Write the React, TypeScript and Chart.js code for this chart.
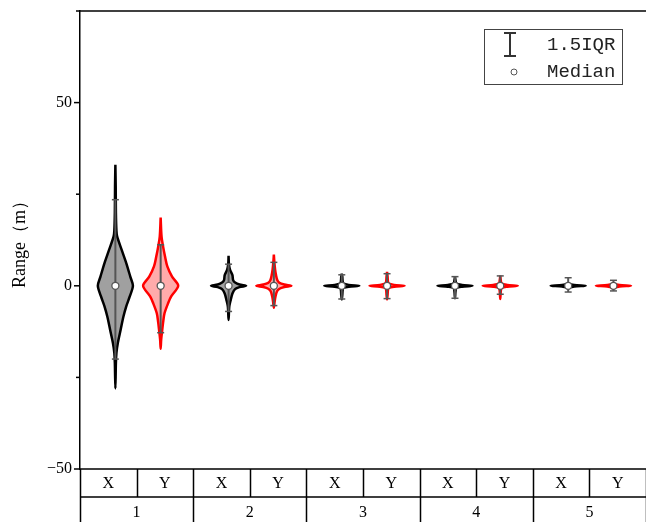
import { useEffect, useRef } from "react";
import { Chart, registerables } from "chart.js";

Chart.register(...registerables);

// Category labels for the two-row table under the plot
const groupLabels = ["1", "2", "3", "4", "5"];
const seriesLabels = ["X", "Y"];

// Violin profiles: levels (m) from top to bottom and the relative kernel width at each level
const x1Levels = [33, 27, 20, 15, 13.5, 9.8, 6.2, 2.5, 0, -2.9, -5.6, -8.4, -12, -15.6, -18.3, -21, -28];
const x1Density = [0, 0.02, 0.03, 0.06, 0.1, 0.36, 0.62, 0.85, 1, 0.82, 0.62, 0.46, 0.3, 0.14, 0.06, 0.03, 0];
const y1Levels = [18.6, 13.5, 10.7, 8, 5.3, 2.5, 0, -2.9, -4.7, -7.5, -10, -12.5, -14.7, -17.2];
const y1Density = [0, 0.05, 0.14, 0.25, 0.38, 0.65, 1, 0.6, 0.43, 0.22, 0.14, 0.08, 0.03, 0];

const x2Levels = [8.2, 6, 4.4, 2.9, 1.55, 0.9, 0.35, 0, -0.35, -0.9, -2.1, -3.9, -5.7, -9.3];
const x2Density = [0, 0.02, 0.08, 0.22, 0.26, 0.37, 0.62, 1, 0.62, 0.37, 0.22, 0.12, 0.04, 0];
const y2Levels = [8.5, 6.4, 4.5, 3, 1.5, 0.8, 0.35, 0, -0.35, -0.8, -1.5, -3, -4.5, -6];
const y2Density = [0, 0.03, 0.07, 0.12, 0.2, 0.32, 0.6, 1, 0.6, 0.32, 0.18, 0.09, 0.04, 0];

const x3Levels = [3.3, 2.5, 1.2, 0.6, 0.25, 0, -0.25, -0.6, -1.2, -2.5, -3.7];
const x3Density = [0, 0.03, 0.05, 0.1, 0.4, 1, 0.4, 0.1, 0.05, 0.03, 0];
const y3Levels = [3.8, 2.5, 1.2, 0.6, 0.25, 0, -0.25, -0.6, -1.2, -2.5, -3.7];
const y3Density = [0, 0.03, 0.05, 0.1, 0.4, 1, 0.4, 0.1, 0.05, 0.03, 0];

const x4Levels = [2.6, 1.5, 0.6, 0.25, 0, -0.25, -0.6, -1.5, -3.4];
const x4Density = [0, 0.03, 0.08, 0.4, 1, 0.4, 0.08, 0.03, 0];
const y4Levels = [2.8, 1.5, 0.6, 0.25, 0, -0.25, -0.6, -1.5, -3.6];
const y4Density = [0, 0.03, 0.08, 0.4, 1, 0.4, 0.08, 0.03, 0];

const x5Levels = [0.5, 0.2, 0, -0.2, -0.5];
const x5Density = [0, 0.35, 1, 0.35, 0];
const y5Levels = [0.5, 0.2, 0, -0.2, -0.5];
const y5Density = [0, 0.35, 1, 0.35, 0];

// Box statistics, in the order X1, Y1, X2, Y2, ... X5, Y5
const whiskerHigh = [23.5, 11.2, 5.9, 6.4, 3.0, 3.3, 2.5, 2.7, 2.2, 1.5];
const whiskerLow = [-20, -12.8, -7, -5.4, -3.6, -3.5, -3.4, -2.3, -1.7, -1.4];
const medians = [0, 0, 0, 0, 0, 0, 0, 0, 0, 0];

const profiles = [
  [x1Levels, x1Density], [y1Levels, y1Density],
  [x2Levels, x2Density], [y2Levels, y2Density],
  [x3Levels, x3Density], [y3Levels, y3Density],
  [x4Levels, x4Density], [y4Levels, y4Density],
  [x5Levels, x5Density], [y5Levels, y5Density],
];

const HALF_WIDTH = 0.31;
const SERIF = "'Liberation Serif', 'Times New Roman', serif";
const MONO = "'Liberation Mono', 'Courier New', monospace";

function centerOf(index: number) {
  const group = Math.floor(index / 2);
  const series = index % 2;
  return group * 2 + 0.625 + series * 0.8;
}

function outline(center: number, levels: number[], density: number[]) {
  const pts: { x: number; y: number }[] = [];
  for (let i = 0; i < levels.length; i++) {
    pts.push({ x: center + density[i] * HALF_WIDTH, y: levels[i] });
  }
  for (let i = levels.length - 2; i >= 0; i--) {
    pts.push({ x: center - density[i] * HALF_WIDTH, y: levels[i] });
  }
  return pts;
}

const decorations = {
  id: "decorations",
  afterDraw(chart: any) {
    const { ctx, chartArea: area, scales } = chart;
    const xs = scales.x;
    const ys = scales.y;
    const H = chart.height;
    ctx.save();
    ctx.strokeStyle = "#000";
    ctx.fillStyle = "#000";

    // top frame line
    ctx.lineWidth = 1.5;
    ctx.beginPath();
    ctx.moveTo(area.left, area.top);
    ctx.lineTo(area.right, area.top);
    ctx.stroke();

    // tick marks on the value axis
    for (let v = -50; v <= 75; v += 25) {
      const len = v % 50 === 0 ? 6 : 4;
      const py = ys.getPixelForValue(v);
      ctx.beginPath();
      ctx.moveTo(area.left - len, py);
      ctx.lineTo(area.left, py);
      ctx.stroke();
    }

    // category table
    const row1 = area.bottom;
    const row2 = area.bottom + 28;
    ctx.lineWidth = 1.5;
    ctx.beginPath();
    ctx.moveTo(area.left, row1);
    ctx.lineTo(area.right, row1);
    ctx.moveTo(area.left, row2);
    ctx.lineTo(area.right, row2);
    for (let k = 0; k <= groupLabels.length * 2; k++) {
      const px = Math.round(xs.getPixelForValue(k)) + 0.5;
      ctx.moveTo(px, row1);
      ctx.lineTo(px, k % 2 === 0 ? H : row2);
    }
    ctx.stroke();

    ctx.textAlign = "center";
    ctx.textBaseline = "middle";
    ctx.font = `16px ${SERIF}`;
    groupLabels.forEach((g, gi) => {
      seriesLabels.forEach((s, si) => {
        ctx.fillText(s, xs.getPixelForValue(gi * 2 + si + 0.5), row1 + 15);
      });
      ctx.fillText(g, xs.getPixelForValue(gi * 2 + 1), row2 + 16);
    });

    // legend
    const bx = area.right - 162;
    const by = area.top + 18;
    ctx.strokeStyle = "#444";
    ctx.lineWidth = 1;
    ctx.strokeRect(bx + 0.5, by + 0.5, 138, 55);
    ctx.strokeStyle = "#333";
    ctx.lineWidth = 2;
    const ix = bx + 26;
    ctx.beginPath();
    ctx.moveTo(ix, by + 4);
    ctx.lineTo(ix, by + 27);
    ctx.moveTo(ix - 6, by + 4);
    ctx.lineTo(ix + 6, by + 4);
    ctx.moveTo(ix - 6, by + 27);
    ctx.lineTo(ix + 6, by + 27);
    ctx.stroke();
    ctx.strokeStyle = "#555";
    ctx.lineWidth = 1;
    ctx.beginPath();
    ctx.arc(bx + 30, by + 43, 3, 0, Math.PI * 2);
    ctx.stroke();
    ctx.fillStyle = "#222";
    ctx.textAlign = "left";
    ctx.font = `19px ${MONO}`;
    ctx.fillText("1.5IQR", bx + 63, by + 16);
    ctx.fillText("Median", bx + 63, by + 43);
    ctx.restore();
  },
};

export default function App() {
  const canvasRef = useRef<HTMLCanvasElement | null>(null);

  useEffect(() => {
    const canvas = canvasRef.current;
    if (!canvas) return;

    const violinSets = profiles.map(([levels, density], i) => {
      const red = i % 2 === 1;
      return {
        type: "line",
        data: outline(centerOf(i), levels, density),
        borderColor: red ? "#ff0000" : "#000000",
        backgroundColor: red ? "rgba(255,0,0,0.33)" : "#a0a0a0",
        fill: "shape",
        borderWidth: 2.5,
        pointRadius: 0,
        tension: 0.3,
        order: 3,
      };
    });

    const whiskerSets = whiskerHigh.map((hi, i) => ({
      type: "line",
      data: [
        { x: centerOf(i), y: whiskerLow[i] },
        { x: centerOf(i), y: hi },
      ],
      borderColor: "#555",
      borderWidth: 2,
      pointStyle: "line",
      pointRadius: 3.5,
      pointBorderColor: "#555",
      pointBorderWidth: 1.5,
      fill: false,
      order: 2,
    }));

    const medianSet = {
      type: "line",
      data: medians.map((m, i) => ({ x: centerOf(i), y: m })),
      showLine: false,
      pointStyle: "circle",
      pointRadius: 3.5,
      pointBackgroundColor: "#ffffff",
      pointBorderColor: "#555",
      pointBorderWidth: 1.3,
      order: 1,
    };

    const chart = new Chart(canvas, {
      type: "line",
      data: { datasets: [medianSet, ...whiskerSets, ...violinSets] as any },
      options: {
        animation: false,
        responsive: false,
        devicePixelRatio: 1,
        layout: { autoPadding: false, padding: { top: 11, bottom: 53, left: 0, right: 0 } },
        plugins: { legend: { display: false }, tooltip: { enabled: false } },
        scales: {
          x: { type: "linear", min: 0, max: 10, display: false, ticks: { display: false } },
          y: {
            type: "linear",
            min: -50,
            max: 75,
            afterFit: (s: any) => {
              s.width = 80;
            },
            grid: {
              display: true,
              drawOnChartArea: false,
              drawTicks: true,
              tickLength: 8,
              color: "rgba(0,0,0,0)",
              tickColor: "rgba(0,0,0,0)",
            },
            border: { display: true, color: "#000", width: 1.5 },
            ticks: {
              stepSize: 25,
              padding: 0,
              color: "#000",
              font: { family: SERIF, size: 16 },
              callback: (v: any) =>
                v % 50 === 0 ? (v < 0 ? "\u2212" + Math.abs(v) : String(v)) : "",
            },
            title: {
              display: true,
              text: "Range（m）",
              color: "#000",
              font: { family: SERIF, size: 18 },
              padding: { top: 9, bottom: 0 },
            },
          },
        },
      },
      plugins: [decorations],
    });
    return () => chart.destroy();
  }, []);

  return (
    <div style={{ position: "fixed", left: 0, top: 0, width: 646, height: 522, background: "#fff" }}>
      <canvas ref={canvasRef} width={646} height={522} style={{ display: "block" }} />
    </div>
  );
}
